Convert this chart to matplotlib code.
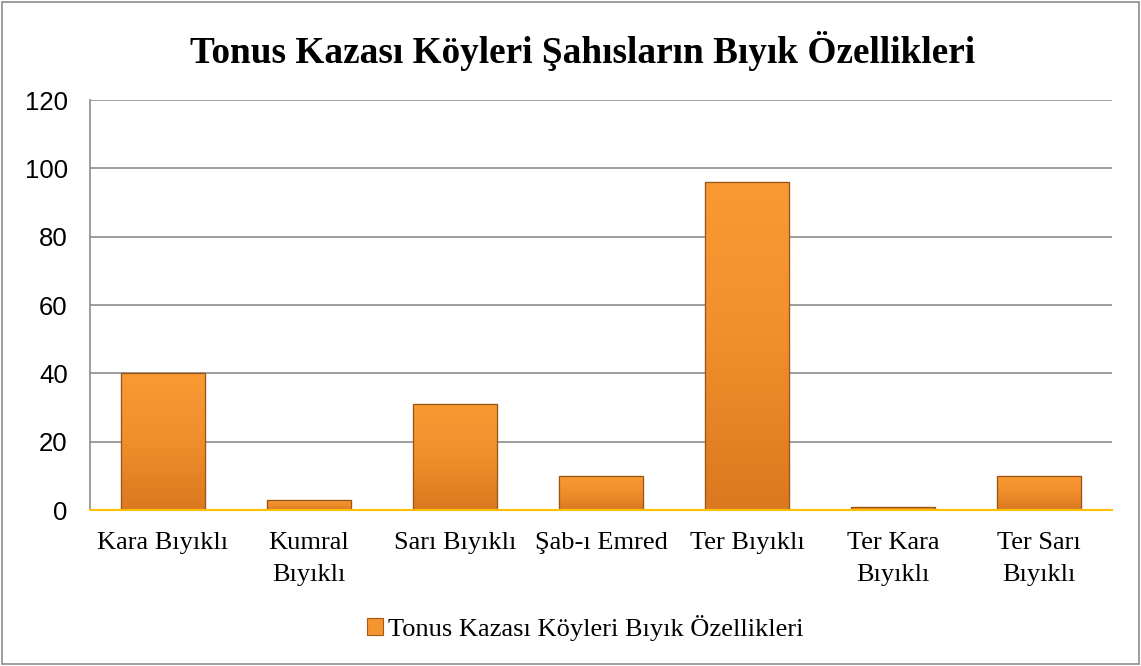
import matplotlib
matplotlib.use('Agg')
import matplotlib.pyplot as plt
import numpy as np
from matplotlib.patches import Rectangle

# veriler
categories = ['Kara Bıyıklı', 'Kumral\nBıyıklı', 'Sarı Bıyıklı', 'Şab-ı Emred',
              'Ter Bıyıklı', 'Ter Kara\nBıyıklı', 'Ter Sarı\nBıyıklı']
values = [40, 3, 31, 10, 96, 1, 10]
series_name = 'Tonus Kazası Köyleri Bıyık Özellikleri'
title = 'Tonus Kazası Köyleri Şahısların Bıyık Özellikleri'

fig = plt.figure(figsize=(11.41, 6.66), dpi=100)
ax = fig.add_axes([0.0789, 0.2342, 0.8957, 0.6156])

x = np.arange(len(categories))
bars = ax.bar(x, values, width=0.575, color='#F5952F', edgecolor='#A65A16',
              linewidth=0.8, zorder=3, label=series_name)

# bar gradyanı (yaklaşık)
grad = np.linspace(0, 1, 100).reshape(-1, 1)
cmap = matplotlib.colors.LinearSegmentedColormap.from_list(
    'o', ['#DC781F', '#F08E2C', '#F99A34'])
for b in bars:
    x0, y0 = b.get_x(), b.get_y()
    w, h = b.get_width(), b.get_height()
    im = ax.imshow(grad, extent=[x0, x0 + w, y0, y0 + h], aspect='auto',
                   cmap=cmap, origin='lower', zorder=3.5)
    im.set_clip_path(b)
    ax.add_patch(Rectangle((x0, y0), w, h, fill=False, edgecolor='#9A5415',
                           linewidth=0.9, zorder=4))

ax.set_xlim(-0.5, len(categories) - 0.5)
ax.set_ylim(0, 120)
ax.set_yticks(range(0, 121, 20))
ax.yaxis.grid(True, color='#8C8C8C', linewidth=1.2, zorder=0)
ax.set_axisbelow(True)

for s in ['top', 'right']:
    ax.spines[s].set_visible(False)
ax.spines['left'].set_color('#8C8C8C')
ax.spines['left'].set_linewidth(1.2)
ax.spines['bottom'].set_color('#FFC000')
ax.spines['bottom'].set_linewidth(1.5)
ax.spines['bottom'].set_zorder(5)

ax.set_xticks(x)
ax.set_xticklabels(categories, fontfamily='Liberation Serif', fontsize=19,
                   linespacing=1.55)
ax.tick_params(axis='x', length=0, pad=16)
ax.tick_params(axis='y', length=0, pad=16, labelsize=18.5)
for t in ax.get_yticklabels():
    t.set_fontfamily('Liberation Sans')

fig.text(0.511, 0.923, title, ha='center', va='center', fontsize=26.8,
         fontweight='bold', fontfamily='Liberation Serif')

leg = fig.legend(handles=[bars], labels=[series_name], loc='center',
                 bbox_to_anchor=(0.513, 0.057), frameon=False,
                 prop={'family': 'Liberation Serif', 'size': 19},
                 handlelength=0.6, handleheight=0.6, handletextpad=0.2)

# dış çerçeve
fig.patches.append(Rectangle((0.002, 0.003), 0.996, 0.994, transform=fig.transFigure,
                             fill=False, edgecolor='#8C8C8C', linewidth=1.2))

fig.savefig('out.png', dpi=100)
